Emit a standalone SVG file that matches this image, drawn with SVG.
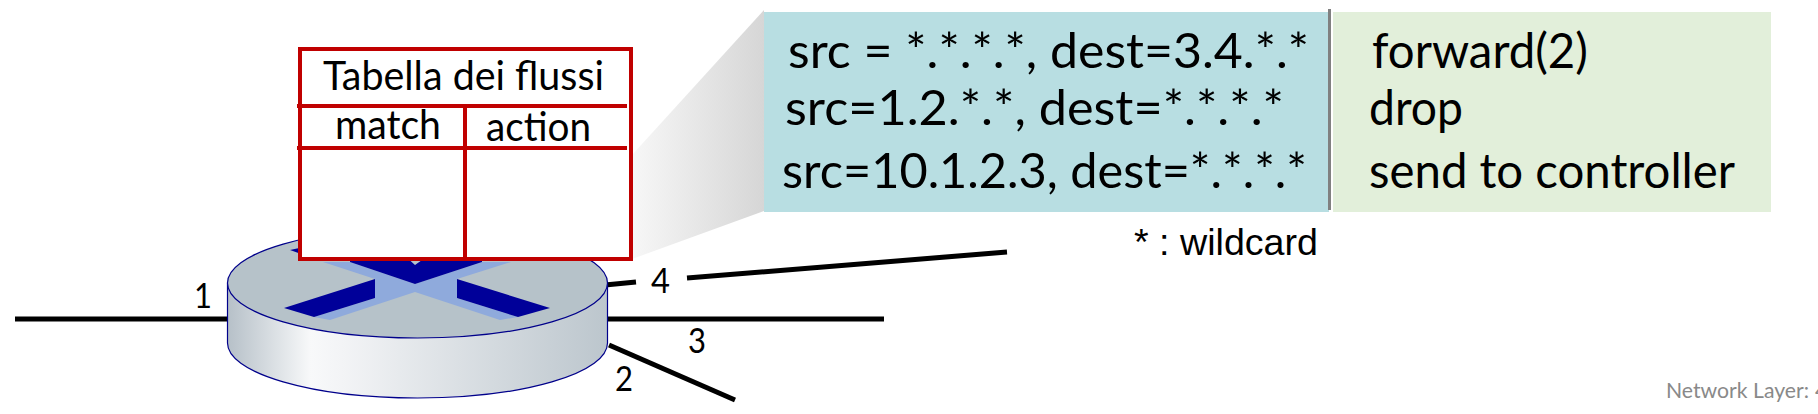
<svg xmlns="http://www.w3.org/2000/svg" width="1818" height="414" viewBox="0 0 1818 414">
<style>
text{font-family:"Lato","Liberation Sans",sans-serif;fill:#000}
.big{font-size:48px}
.tb{font-size:41px}
.num{font-size:35px}
.wire{stroke:#000;stroke-width:5;fill:none}
.grid{stroke:#c00000;stroke-width:4;fill:none}
</style>
<defs>
<linearGradient id="side" x1="0" x2="1" y1="0" y2="0">
<stop offset="0" stop-color="#b6c0c8"/><stop offset="0.22" stop-color="#f8f9fa"/><stop offset="0.3" stop-color="#f3f4f6"/><stop offset="1" stop-color="#bcc6cd"/>
</linearGradient>
<linearGradient id="funnel" x1="0" x2="1" y1="0" y2="0">
<stop offset="0" stop-color="#f7f7f7"/><stop offset="1" stop-color="#d6d6d6"/>
</linearGradient>
</defs>
<g id="connectors">
<line class="wire" x1="15" y1="319" x2="230" y2="319"/>
<line class="wire" x1="604" y1="319" x2="884" y2="319"/>
<line class="wire" x1="605" y1="285" x2="636" y2="282"/>
<line class="wire" x1="687" y1="278" x2="1007" y2="252"/>
<line class="wire" x1="609" y1="345" x2="735" y2="400"/>
</g>
<g id="router">
<path d="M227.500 283V343A190 55 0 0 0 607.500 343V283Z" fill="url(#side)" stroke="#00008b" stroke-width="1.200"/>
<ellipse cx="417.500" cy="283" rx="190" ry="55" fill="#b6c2c9" stroke="#00008b" stroke-width="1.200"/>
<polygon fill="#8faadc" points="330,320 415,292 500,320 518,317 457,298 457,279 511,262 482,262 415,284 350,262 323,262 375,279 375,298 314,317"/>
<polygon fill="#000099" points="284,308 375,279 375,298 314,317"/>
<polygon fill="#000099" points="550,308 457,279 457,298 518,317"/>
<polygon fill="#000099" points="350,255 404,255 415,265 429,255 482,255 482,262 415,284 350,262"/>
<polygon fill="#000099" points="290,250 304,247 304,255"/>
</g>
<g id="funnel-shape">
<polygon points="632,155 764,10 764,211 632,259" fill="url(#funnel)"/>
</g>
<g id="flow-table">
<rect x="300" y="49" width="331" height="210" fill="#fff"/>
<rect class="grid" x="300" y="49" width="331" height="210"/>
<line class="grid" x1="297" y1="106" x2="627" y2="106"/>
<line class="grid" x1="297" y1="148" x2="627" y2="148"/>
<line class="grid" x1="465" y1="106" x2="465" y2="259"/>
<text class="tb" x="323" y="90" textLength="281" lengthAdjust="spacingAndGlyphs">Tabella dei flussi</text>
<text class="tb" x="335" y="139" textLength="106" lengthAdjust="spacingAndGlyphs">match</text>
<text class="tb" x="486" y="141" textLength="105" lengthAdjust="spacingAndGlyphs">action</text>
</g>
<g id="match-panel">
<rect x="764" y="12" width="565" height="200" fill="#b8dee2"/>
<text class="big" x="788" y="68" textLength="521" lengthAdjust="spacingAndGlyphs">src = *.*.*.*, dest=3.4.*.*</text>
<text class="big" x="785" y="125" textLength="499" lengthAdjust="spacingAndGlyphs">src=1.2.*.*, dest=*.*.*.*</text>
<text class="big" x="782" y="188" textLength="525" lengthAdjust="spacingAndGlyphs">src=10.1.2.3, dest=*.*.*.*</text>
</g>
<g id="action-panel">
<rect x="1333" y="12" width="438" height="200" fill="#e2efda"/>
<text class="big" x="1372" y="68" textLength="216" lengthAdjust="spacingAndGlyphs">forward(2)</text>
<text class="big" x="1369" y="125" textLength="94" lengthAdjust="spacingAndGlyphs">drop</text>
<text class="big" x="1369" y="188" textLength="366" lengthAdjust="spacingAndGlyphs">send to controller</text>
</g>
<line id="divider" x1="1329.500" y1="9" x2="1329.500" y2="210" stroke="#808080" stroke-width="3"/>
<text id="wildcard" x="1134" y="255" style="font-family:'Liberation Sans',sans-serif;font-size:37px" textLength="184" lengthAdjust="spacingAndGlyphs">* : wildcard</text>
<g id="port-labels">
<text class="num" x="194" y="308" textLength="18" lengthAdjust="spacingAndGlyphs">1</text>
<text class="num" x="615" y="391" textLength="18" lengthAdjust="spacingAndGlyphs">2</text>
<text class="num" x="688" y="353" textLength="18" lengthAdjust="spacingAndGlyphs">3</text>
<text class="num" x="651" y="293" textLength="19" lengthAdjust="spacingAndGlyphs">4</text>
</g>
<text id="footer" x="1666" y="398" style="font-family:'Lato',sans-serif;font-size:22px;fill:#898989" textLength="143" lengthAdjust="spacingAndGlyphs">Network Layer:</text>
<text id="footer-page" x="1815" y="398" style="font-family:'Lato',sans-serif;font-size:22px;fill:#898989">4</text>
</svg>
